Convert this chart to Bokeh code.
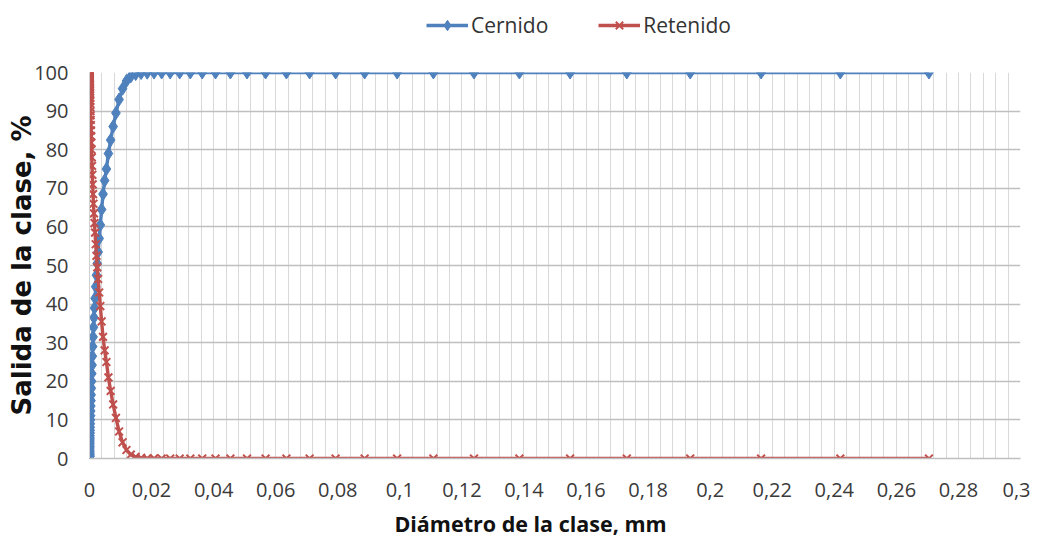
import math
from bokeh.plotting import figure
from bokeh.layouts import column
from bokeh.models import (Range1d, FixedTicker, Legend, LegendItem, Label)
from bokeh.embed import file_html
from bokeh.resources import INLINE

# ---------------- data ----------------
diametro_mm = [
    0.0000132, 0.0000148, 0.0000165, 0.0000185, 0.0000207, 0.0000231, 0.0000258, 0.0000289, 0.0000323, 0.0000361,
    0.0000404, 0.0000451, 0.0000505, 0.0000564, 0.0000631, 0.0000705, 0.0000788, 0.0000881, 0.0000985, 0.000110,
    0.000123, 0.000138, 0.000154, 0.000172, 0.000192, 0.000215, 0.000240, 0.000269, 0.000300, 0.000336,
    0.000376, 0.000420, 0.000469, 0.000525, 0.000587, 0.000656, 0.000733, 0.000820, 0.000917, 0.00102,
    0.00115, 0.00128, 0.00143, 0.00160, 0.00179, 0.00200, 0.00224, 0.00250, 0.00279, 0.00312,
    0.00349, 0.00390, 0.00436, 0.00488, 0.00545, 0.00610, 0.00682, 0.00762, 0.00852, 0.00953,
    0.01065, 0.01191, 0.01331, 0.01488, 0.01664, 0.01860, 0.02080, 0.02325, 0.02599, 0.02906,
    0.03249, 0.03632, 0.04061, 0.04540, 0.05076, 0.05675, 0.06345, 0.07093, 0.07930, 0.08866,
    0.09912, 0.11082, 0.12390, 0.13852, 0.15487, 0.17314, 0.19357, 0.21641, 0.24195, 0.27050,
]

cernido = [
    0.45, 0.5, 0.55, 0.6, 0.7, 0.8, 0.9, 1.0, 1.1, 1.25,
    1.4, 1.6, 1.8, 2.0, 2.2, 2.5, 2.8, 3.1, 3.5, 3.9,
    4.3, 4.8, 5.3, 5.9, 6.6, 7.3, 8.1, 9.0, 10.0, 11.1,
    12.3, 13.6, 15.0, 16.5, 18.2, 20.0, 22.0, 24.2, 26.5, 29.0,
    31.5, 34.0, 36.5, 39.0, 41.5, 44.5, 47.5, 50.5, 53.5, 57.0,
    60.5, 64.5, 68.5, 72.0, 75.0, 79.0, 82.5, 86.0, 89.5, 93.0,
    95.8, 97.8, 99.0, 99.6, 99.85, 99.95, 99.98, 100, 100, 100,
    100, 100, 100, 100, 100, 100, 100, 100, 100, 100,
    100, 100, 100, 100, 100, 100, 100, 100, 100, 100,
]

retenido = [
    99.55, 99.5, 99.45, 99.4, 99.3, 99.2, 99.1, 99.0, 98.9, 98.75,
    98.6, 98.4, 98.2, 98.0, 97.8, 97.5, 97.2, 96.9, 96.5, 96.1,
    95.7, 95.2, 94.7, 94.1, 93.4, 92.7, 91.9, 91.0, 90.0, 88.9,
    87.7, 86.4, 85.0, 83.5, 81.8, 80.0, 78.0, 75.8, 73.5, 71.0,
    68.5, 66.0, 63.5, 61.0, 58.5, 55.5, 52.5, 49.5, 46.5, 43.0,
    39.5, 35.5, 31.5, 28.0, 25.0, 21.0, 17.5, 14.0, 10.5, 7.0,
    4.2, 2.2, 1.0, 0.4, 0.15, 0.05, 0.02, 0, 0, 0,
    0, 0, 0, 0, 0, 0, 0, 0, 0, 0,
    0, 0, 0, 0, 0, 0, 0, 0, 0, 0,
]

x_tick_values = [0, 0.02, 0.04, 0.06, 0.08, 0.1, 0.12, 0.14, 0.16, 0.18, 0.2, 0.22, 0.24, 0.26, 0.28, 0.3]
x_tick_labels = ["0", "0,02", "0,04", "0,06", "0,08", "0,1", "0,12", "0,14", "0,16", "0,18",
                 "0,2", "0,22", "0,24", "0,26", "0,28", "0,3"]
y_tick_values = [0, 10, 20, 30, 40, 50, 60, 70, 80, 90, 100]

series_names = ["Cernido", "Retenido"]
x_title = "Diámetro de la clase, mm"
y_title = "Salida de la clase, %"

# ---------------- styling ----------------
BLUE = "#4F81BD"
RED = "#C0504D"
FONT = "Open Sans"
W = 1030
LINE_W = 3.4
DIAMOND_SIZE = 13
X_SIZE = 11
X_LW = 2

# ---------- legend strip (top) ----------
leg = figure(width=W, height=57, x_range=Range1d(0, 1), y_range=Range1d(0, 1),
             output_backend="svg", toolbar_location=None,
             x_axis_type=None, y_axis_type=None,
             min_border_left=0, min_border_right=0, min_border_top=0, min_border_bottom=0)
leg.outline_line_color = None
leg.grid.visible = False
klb = leg.line(diametro_mm, cernido, line_width=LINE_W, line_color=BLUE, visible=False)
ksb = leg.scatter(diametro_mm, cernido, marker="diamond", size=DIAMOND_SIZE,
                  fill_color=BLUE, line_color=BLUE, visible=False)
klr = leg.line(diametro_mm, retenido, line_width=LINE_W, line_color=RED, visible=False)
ksr = leg.scatter(diametro_mm, retenido, marker="x", size=X_SIZE, line_color=RED,
                  line_width=X_LW, visible=False)
legend = Legend(items=[LegendItem(label=series_names[0], renderers=[klb, ksb]),
                       LegendItem(label=series_names[1], renderers=[klr, ksr])],
                orientation="horizontal", location=(337, 18),
                glyph_width=42, glyph_height=26, label_height=26, label_standoff=3, spacing=50,
                padding=0, margin=0, border_line_color=None, background_fill_alpha=0,
                inactive_fill_alpha=0,
                label_text_font=FONT, label_text_font_size="21px", label_text_color="#333333")
leg.add_layout(legend, "center")

# ---------- main chart ----------
p = figure(width=W, height=451, x_range=Range1d(0, 0.3), y_range=Range1d(0, 100),
           output_backend="svg", toolbar_location=None,
           min_border_left=89, min_border_right=10, min_border_top=15, min_border_bottom=50)
p.outline_line_color = None

p.xaxis.ticker = FixedTicker(ticks=x_tick_values,
                             minor_ticks=[i * 0.004 for i in range(76)])
p.xaxis.major_label_overrides = dict(zip(x_tick_values, x_tick_labels))
p.yaxis.ticker = FixedTicker(ticks=y_tick_values)
for ax in (p.xaxis[0], p.yaxis[0]):
    ax.major_tick_line_color = None
    ax.minor_tick_line_color = None
    ax.major_tick_out = 0
    ax.major_tick_in = 0
    ax.minor_tick_out = 0
    ax.major_label_text_font = FONT
    ax.major_label_text_font_size = "20px"
    ax.major_label_text_color = "#3a3a3a"
p.xaxis.axis_line_color = "#bfbfbf"
p.xaxis.axis_line_width = 1.5
p.yaxis.axis_line_color = "#d0d0d0"
p.xaxis.major_label_standoff = 24
p.yaxis.major_label_standoff = 21

p.yaxis.axis_label = y_title
p.yaxis.axis_label_text_font = "DejaVu Sans"
p.yaxis.axis_label_text_font_style = "bold"
p.yaxis.axis_label_text_font_size = "26px"
p.yaxis.axis_label_text_color = "#111111"
p.yaxis.axis_label_standoff = -6

p.xgrid.grid_line_color = "#d9d9d9"
p.xgrid.minor_grid_line_color = "#d9d9d9"
p.xgrid.grid_line_width = 1
p.ygrid.grid_line_color = "#bfbfbf"
p.ygrid.grid_line_width = 1.5

p.line(diametro_mm, cernido, line_width=LINE_W, line_color=BLUE)
p.scatter(diametro_mm, cernido, marker="diamond", size=DIAMOND_SIZE, fill_color=BLUE, line_color=BLUE)
p.line(diametro_mm, retenido, line_width=LINE_W, line_color=RED)
p.scatter(diametro_mm, retenido, marker="x", size=X_SIZE, line_color=RED, line_width=X_LW)

# ---------- x-axis title strip (bottom) ----------
tt = figure(width=W, height=32, x_range=Range1d(0, 1), y_range=Range1d(0, 1),
            output_backend="svg", toolbar_location=None,
            x_axis_type=None, y_axis_type=None,
            min_border_left=0, min_border_right=0, min_border_top=0, min_border_bottom=0)
tt.outline_line_color = None
tt.grid.visible = False
tt.add_layout(Label(x=441, y=17, x_units="screen", y_units="screen", text=x_title,
                    text_align="center", text_baseline="middle", text_font=FONT,
                    text_font_style="bold", text_font_size="21.5px", text_color="#111111"))

layout = column(leg, p, tt, spacing=0)
open("out.html", "w").write(file_html(layout, INLINE))
